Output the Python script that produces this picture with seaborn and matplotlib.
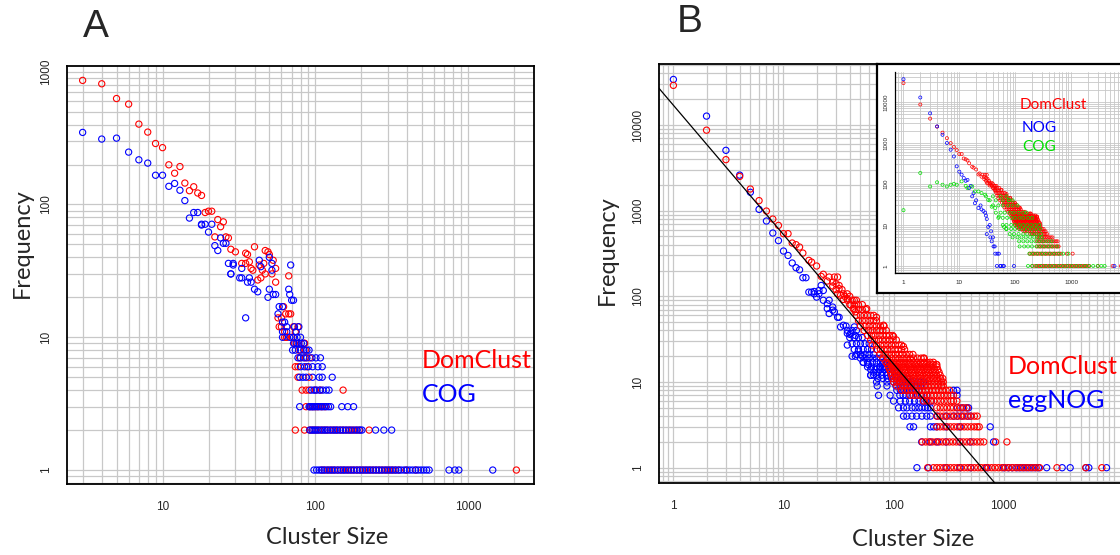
import numpy as np
import pandas as pd
import matplotlib.pyplot as plt
import seaborn as sns
from matplotlib.ticker import LogLocator, FixedLocator, FixedFormatter, NullFormatter

sns.set_style('white')
plt.rcParams['font.family'] = ['Liberation Sans', 'DejaVu Sans']

# ---------------- data (cluster size, frequency) ----------------
# Panel A: DomClust (red) vs COG (blue)
a_dom_pts = [(3, 860), (4, 811), (5, 628), (6, 570), (7, 403), (8, 351), (9, 288), (10, 268),
             (11, 199), (12, 172), (13, 193), (14, 145), (15, 127), (16, 136), (17, 122), (18, 117),
             (19, 87), (20, 89), (21, 89), (22, 57), (23, 77), (24, 68), (25, 74), (26, 57), (27, 56),
             (28, 46), (30, 44), (33, 36), (35, 43), (35, 36), (36, 42), (37, 37), (38, 33), (39, 32),
             (40, 48), (42, 27), (43, 35), (44, 28), (45, 32), (46, 36), (47, 30), (47, 45), (49, 44),
             (50, 42), (52, 30), (53, 38), (55, 26), (55, 33), (57, 14), (58, 12), (60, 14), (60, 12),
             (62, 17), (63, 11), (64, 15), (65, 10), (67, 29), (67, 15), (69, 15), (72, 12), (74, 11),
             (77, 12), (85, 9), (63, 10), (65, 10), (70, 10)]
a_dom_rows = {
    9: [73, 76, 85],
    8: [78, 86],
    7: [79, 86, 92],
    6: [74, 77, 88],
    5: [77, 91],
    4: [82, 87, 91, 100, 108, 152],
    3: [87, 92, 96, 100, 104, 110, 116],
    2: [74, 85, 92, 96, 100, 105, 110, 115, 120, 126, 132, 138, 145, 152, 160, 168, 176, 185, 194, 225],
    1: [110, 115, 121, 127, 133, 140, 147, 154, 162, 170, 178, 187, 196, 206, 216, 227, 238, 250, 262,
        275, 289, 303, 318, 334, 353, 393, 455, 2070],
}
a_cog_pts = [(3, 349), (4, 311), (5, 316), (6, 248), (7, 217), (8, 205), (9, 166), (10, 166), (11, 137),
             (12, 144), (13, 128), (14, 107), (15, 79), (16, 87), (17, 87), (18, 71), (18, 70), (19, 71),
             (20, 62), (21, 71), (22, 49), (23, 45), (24, 56), (25, 51), (26, 51), (27, 36), (28, 30),
             (28, 30), (29, 36), (29, 35), (32, 28), (33, 33), (33, 28), (36, 26), (37, 28), (38, 26),
             (40, 23), (42, 22), (43, 38), (44, 34), (50, 40), (52, 36), (52, 32), (69, 35), (67, 23),
             (50, 23), (35, 14), (49, 20), (53, 21), (55, 21), (58, 17), (61, 17), (57, 15), (61, 13),
             (63, 13), (61, 10), (65, 12), (68, 21), (70, 19), (72, 19), (73, 12), (75, 11), (78, 12),
             (61, 11), (65, 11), (68, 10), (72, 10), (76, 10), (80, 10)]
a_cog_rows = {
    9: [72, 75, 78, 81, 84],
    8: [71, 74, 80, 84, 88, 91],
    7: [77, 80, 84, 88, 95, 101, 108],
    6: [80, 85, 90, 96, 104, 111],
    5: [79, 83, 87, 96, 106, 111, 129],
    4: [94, 98, 102, 107, 112, 118, 123],
    3: [79, 91, 93, 95, 97, 99, 102, 105, 108, 111, 114, 118, 122, 126, 149, 163, 178],
    2: [92, 95, 98, 101, 104, 108, 112, 116, 120, 125, 130, 135, 140, 146, 152, 158, 165, 172, 180,
        188, 196, 202, 248, 281, 316],
    1: [98, 102, 106, 110, 114, 119, 124, 129, 134, 140, 146, 152, 158, 165, 172, 179, 187, 195, 203,
        212, 221, 230, 240, 250, 261, 272, 284, 296, 309, 322, 336, 350, 365, 381, 398, 415, 433,
        452, 472, 492, 513, 535, 556, 750, 820, 870, 1450],
}

# Panel B: DomClust (red) vs eggNOG (blue)
b_dom_pts = [(1, 29000), (2, 8700), (3, 3940), (4, 2510), (5, 1790), (6, 1310), (7, 990), (8, 798),
             (9, 673), (10, 539), (11, 539), (12, 419), (13, 401), (14, 376), (15, 320), (17, 263),
             (18, 251), (20, 226), (22, 171), (23, 181), (25, 151), (26, 168), (28, 132), (29, 168),
             (31, 107), (31, 168), (32, 134), (33, 103), (35, 107), (35, 92), (38, 94), (41, 79),
             (43, 72), (45, 66), (28, 147), (32, 123), (38, 107), (46, 90), (57, 72), (70, 57),
             (81, 46), (100, 34), (123, 26), (187, 19), (247, 16)]
b_dom_rows = {
    140: [30], 120: [30, 34], 100: [36, 40], 90: [38, 42, 44], 80: [40, 44, 48, 52],
    70: [44, 48, 52, 56], 60: [46, 50, 54, 58, 62, 66], 52: [48, 52, 56, 61, 66, 70],
    45: [50, 55, 60, 65, 70, 76, 82], 40: [54, 59, 64, 70, 75, 80, 86],
    35: [58, 63, 68, 74, 80, 86, 92, 98], 31: [62, 67, 73, 79, 85, 92, 99, 106],
    27: [64, 70, 76, 82, 89, 96, 104, 112, 118], 24: [70, 76, 82, 88, 95, 103, 110, 118, 126],
    21: [75, 82, 89, 96, 104, 112, 120, 130, 140, 150],
    19: [80, 88, 96, 104, 112, 122, 132, 142, 152, 165, 178, 190],
    17: [85, 92, 100, 108, 117, 127, 138, 150, 162, 175, 188, 200, 215, 230],
    16: [88, 95, 102, 110, 118, 127, 137, 147, 158, 170, 183, 197, 212, 228, 245],
    15: [90, 97, 104, 112, 120, 129, 139, 149, 160, 172, 185, 199, 214, 230, 248],
    14: [92, 99, 106, 114, 123, 132, 142, 153, 164, 176, 189, 203, 218, 235, 252],
    13: [94, 101, 109, 117, 126, 135, 145, 156, 168, 180, 194, 208, 224, 241, 259],
    12: [96, 103, 111, 119, 128, 138, 148, 159, 171, 184, 198, 213, 229, 246, 265],
    11: [98, 105, 113, 121, 130, 140, 150, 161, 173, 186, 200, 215, 231, 248, 267, 280],
    10: [100, 107, 115, 124, 133, 143, 154, 166, 178, 191, 205, 220, 236, 254, 273, 283],
    9: [107, 115, 124, 133, 143, 154, 166, 178, 191, 205, 220, 236, 254, 273, 283],
    8: [118, 127, 136, 146, 157, 169, 181, 195, 209, 225, 241, 259, 279, 300, 322],
    7: [141, 151, 162, 174, 187, 201, 216, 232, 249, 268, 288, 310, 333, 350],
    6: [187, 201, 216, 232, 249, 268, 288, 310, 333, 350, 376],
    5: [247, 265, 285, 306, 329, 350, 376, 404, 434, 466],
    4: [247, 265, 285, 306, 329, 354, 380, 408, 438, 470, 505, 542, 575],
    3: [247, 265, 285, 306, 329, 354, 380, 408, 438, 470, 505, 542, 575, 600],
    2: [182, 196, 210, 225, 242, 260, 279, 300, 322, 346, 372, 400, 430, 462, 496, 533, 573, 615,
        660, 845, 1070],
    1: [204, 230, 247, 265, 285, 306, 329, 354, 380, 408, 438, 470, 505, 542, 583, 626, 673, 723,
        777, 835, 897, 964, 1036, 1113, 1196, 1285, 1380, 1483, 1594, 1712, 1840, 1977, 2124, 3050,
        5560, 7800],
}
b_egg_pts = [(1, 34000), (2, 12700), (3, 5060), (4, 2600), (5, 1640), (6, 1035), (7, 757), (8, 548),
             (9, 447), (10, 338), (11, 300), (12, 245), (13, 216), (14, 204), (15, 165), (16, 165),
             (17, 112), (18, 112), (19, 114), (19, 107), (20, 98), (21, 117), (21, 107), (22, 134),
             (23, 117), (23, 90), (25, 82), (26, 90), (25, 72), (28, 75), (28, 69), (26, 63), (29, 66),
             (31, 57), (32, 57), (33, 44), (35, 46), (37, 45), (38, 37), (40, 36), (41, 37), (44, 44),
             (45, 35), (38, 27), (48, 23), (42, 20), (45, 20), (52, 20), (53, 17), (59, 16), (62, 12),
             (66, 12), (75, 15), (82, 14), (81, 17), (87, 16), (93, 16)]
b_egg_rows = {
    40: [38, 42, 46], 33: [40, 44, 48, 52], 28: [42, 46, 50, 55, 60], 24: [44, 48, 53, 58, 63],
    21: [46, 50, 55, 60, 66], 19: [50, 55, 60, 65, 70, 76], 17: [53, 58, 64, 70, 76, 82, 88],
    15: [58, 63, 70, 76, 82, 90, 97], 14: [62, 68, 75, 82, 89, 96, 104],
    13: [66, 72, 79, 86, 94, 102, 110], 12: [62, 70, 78, 86, 94, 102, 110, 120],
    11: [72, 80, 88, 96, 105, 115, 125, 135],
    10: [70, 87, 100, 107, 114, 120, 128, 137, 145, 155, 165, 175, 187],
    9: [71, 87, 105, 115, 125, 135, 145, 160, 175, 190],
    8: [107, 115, 124, 132, 140, 150, 160, 170, 350, 377],
    7: [73, 93, 114, 122, 130, 140, 151, 165, 180, 200, 377],
    6: [100, 115, 128, 140, 155, 170, 185, 200, 220],
    5: [111, 123, 132, 147, 157, 170, 181, 194, 205, 216, 380, 420, 460, 480],
    4: [123, 132, 147, 162, 181, 200, 216, 250, 300, 350, 380, 420, 470, 500],
    3: [141, 152, 216, 231, 247, 300, 400, 755],
    2: [180, 215, 250, 300, 400, 500, 810],
    1: [163, 208, 300, 400, 500, 700, 1000, 1100, 1200, 1320, 1420, 1530, 1650, 1780, 1920, 2070,
        2460, 3400, 4020, 5600, 5940, 8600],
}
# fitted power law drawn in panel B: freq = b_fit_coef * size ** b_fit_slope
b_fit_coef, b_fit_slope = 17000, -1.51
b_fit_range = [0.5, 2000]

# inset: DomClust (same as B), NOG (blue), COG (green)
in_nog_pts = [(1, 36000), (2, 12900), (3, 5300), (4, 2540), (5, 1590), (6, 1000), (7, 687), (8, 470),
              (9, 270), (10, 200), (11, 169), (12, 140), (13, 120), (14, 126), (15, 80), (16, 90),
              (17, 50), (18, 60), (19, 34), (20, 40), (22, 26), (24, 30), (25, 24), (27, 22), (29, 20),
              (30, 17), (31, 14), (33, 9), (35, 10), (31, 6), (36, 5), (37, 7), (38, 4), (40, 5),
              (41, 3), (43, 3), (44, 2), (48, 2), (51, 2), (47, 1), (54, 1), (55, 1), (60, 1), (63, 1),
              (95, 1), (6000, 1)]
in_cog_pts = [(1, 23), (2, 186), (3, 87), (4, 110), (5, 96), (6, 87), (7, 96), (8, 101), (9, 96),
              (11, 116), (13, 90), (14, 80), (17, 87), (19, 66), (22, 66), (25, 60), (29, 55), (33, 41),
              (38, 28), (44, 26), (51, 16), (63, 9), (69, 8), (77, 41)]
in_cog_rows = {
    50: [30, 40, 55, 70], 40: [35, 45, 60, 77, 90], 30: [40, 50, 60, 75, 90, 110],
    20: [45, 55, 65, 80, 95, 115, 140, 160], 15: [50, 60, 72, 85, 100, 120, 140, 170, 200],
    10: [60, 70, 85, 100, 120, 140, 165, 195, 230, 270],
    8: [70, 85, 100, 120, 145, 170, 200, 240, 280], 6: [80, 95, 115, 140, 165, 200, 240, 290],
    5: [90, 110, 130, 155, 185, 220, 260, 300], 4: [118, 140, 165, 195, 230, 270, 320, 380, 450],
    3: [120, 145, 170, 200, 240, 280, 330, 390, 460, 560],
    2: [180, 210, 250, 300, 350, 420, 500, 600, 720, 900],
    1: [170, 200, 240, 290, 350, 420, 500, 600, 720, 860, 1030, 1240, 1480, 1780, 2100, 2500,
        3000, 3500, 4000],
}


def to_frame(pts, rows=None):
    sizes = [p[0] for p in pts]
    freqs = [p[1] for p in pts]
    for f, ss in (rows or {}).items():
        sizes += ss
        freqs += [f] * len(ss)
    return pd.DataFrame({'size': sizes, 'freq': freqs})


a_dom = to_frame(a_dom_pts, a_dom_rows)
a_cog = to_frame(a_cog_pts, a_cog_rows)
b_dom = to_frame(b_dom_pts, b_dom_rows)
b_egg = to_frame(b_egg_pts, b_egg_rows)
in_nog = to_frame(in_nog_pts)
in_cog = to_frame(in_cog_pts, in_cog_rows)

W, H = 1120, 555
fig = plt.figure(figsize=(W / 100, H / 100), dpi=100)


def box(x0, y0, x1, y1):
    # pixel box (top-left origin) -> figure fraction rect
    return [x0 / W, 1 - y1 / H, (x1 - x0) / W, (y1 - y0) / H]


def style_log_axes(ax, xticks, yticks, grid_lw=0.9, lab_size=8.5, tick_len=5.5, pad=5, xpad=7):
    ax.set_xscale('log')
    ax.set_yscale('log')
    ax.xaxis.set_major_locator(FixedLocator(xticks))
    ax.xaxis.set_major_formatter(FixedFormatter([str(t) for t in xticks]))
    ax.yaxis.set_major_locator(FixedLocator(yticks))
    ax.yaxis.set_major_formatter(FixedFormatter([str(t) for t in yticks]))
    for axis in (ax.xaxis, ax.yaxis):
        axis.set_minor_locator(LogLocator(base=10, subs=np.arange(1, 10), numticks=30))
        axis.set_minor_formatter(NullFormatter())
    ax.tick_params(which='minor', length=0)
    ax.tick_params(which='major', length=tick_len, width=0.9, labelsize=lab_size, pad=pad,
                   direction='out', color='black')
    ax.tick_params(axis='x', which='major', pad=xpad)
    for lab in ax.get_yticklabels():
        lab.set_rotation(90)
        lab.set_va('center')
    ax.grid(True, which='both', color='#c8c8c8', lw=grid_lw)
    ax.set_axisbelow(True)
    ax.set_xlabel('')
    ax.set_ylabel('')


def hollow(df, ax, color, s=20, lw=0.8):
    sns.scatterplot(data=df, x='size', y='freq', ax=ax, marker='o', s=s,
                    facecolor='none', edgecolor=color, linewidth=lw, legend=False)


label_font = ['Lato', 'DejaVu Sans']

# ---------------- panel A ----------------
axA = fig.add_axes(box(67, 66, 534, 484))
hollow(a_dom, axA, '#ff0000')
hollow(a_cog, axA, '#0000ff')
style_log_axes(axA, [10, 100, 1000], [1, 10, 100, 1000])
axA.set_xlim(2.37, 2700)
axA.set_ylim(0.785, 1104)
for sp in axA.spines.values():
    sp.set_color('black')
    sp.set_linewidth(1.3)

# ---------------- panel B ----------------
axB = fig.add_axes(box(659, 64, 1135, 483))
hollow(b_egg, axB, '#0000ff')
hollow(b_dom, axB, '#ff0000')
fit = pd.DataFrame({'size': b_fit_range})
fit['freq'] = b_fit_coef * fit['size'] ** b_fit_slope
sns.lineplot(data=fit, x='size', y='freq', ax=axB, color='black', lw=0.9)
style_log_axes(axB, [1, 10, 100, 1000], [1, 10, 100, 1000, 10000])
axB.set_xlim(0.74, 15600)
axB.set_ylim(0.663, 51500)
for sp in axB.spines.values():
    sp.set_color('black')
    sp.set_linewidth(1.3)

# ---------------- inset ----------------
frame = fig.add_axes(box(877, 64, 1140, 293))
frame.set_facecolor('white')
frame.set_xticks([])
frame.set_yticks([])
for sp in frame.spines.values():
    sp.set_color('black')
    sp.set_linewidth(1.6)

axI = fig.add_axes(box(895, 72, 1140, 273))
hollow(b_dom, axI, '#ff0000', s=5, lw=0.5)
hollow(in_nog, axI, '#0000ff', s=5, lw=0.5)
hollow(in_cog, axI, '#00e000', s=5, lw=0.5)
style_log_axes(axI, [1, 10, 100, 1000], [1, 10, 100, 1000, 10000], grid_lw=0.6,
               lab_size=4.5, tick_len=2.5, pad=2, xpad=2.5)
axI.set_xlim(0.705, 17200)
axI.set_ylim(0.675, 54000)
axI.set_facecolor('white')
for side in ('top', 'right'):
    axI.spines[side].set_visible(False)
for side in ('left', 'bottom'):
    axI.spines[side].set_color('black')
    axI.spines[side].set_linewidth(0.9)
axI.text(1020 / W, 1 - 105 / H, 'DomClust', transform=fig.transFigure, color='#ff0000',
         fontsize=11, va='center', family=label_font)
axI.text(1022 / W, 1 - 128 / H, 'NOG', transform=fig.transFigure, color='#0000ff',
         fontsize=11, va='center', family=label_font)
axI.text(1022 / W, 1 - 147 / H, 'COG', transform=fig.transFigure, color='#00dd00',
         fontsize=11, va='center', family=label_font)

# ---------------- labels ----------------
fig.text(22 / W, 1 - 243 / H, 'Frequency', rotation=90, ha='center', va='center',
         fontsize=17, family=label_font)
fig.text(327 / W, 1 - 538 / H, 'Cluster Size', ha='center', va='center', fontsize=17,
         family=label_font)
fig.text(607 / W, 1 - 250 / H, 'Frequency', rotation=90, ha='center', va='center',
         fontsize=17, family=label_font)
fig.text(913 / W, 1 - 540 / H, 'Cluster Size', ha='center', va='center', fontsize=17,
         family=label_font)
fig.text(422 / W, 1 - 360 / H, 'DomClust', color='#ff0000', va='center', fontsize=18,
         family=label_font)
fig.text(422 / W, 1 - 395 / H, 'COG', color='#0000ff', va='center', fontsize=18,
         family=label_font)
fig.text(1008 / W, 1 - 366 / H, 'DomClust', color='#ff0000', va='center', fontsize=18,
         family=label_font)
fig.text(1008 / W, 1 - 400 / H, 'eggNOG', color='#0000ff', va='center', fontsize=18,
         family=label_font)
fig.text(96 / W, 1 - 27 / H, 'A', ha='center', va='center', fontsize=28)
fig.text(690 / W, 1 - 22 / H, 'B', ha='center', va='center', fontsize=28)

fig.savefig('out.png', dpi=100)
